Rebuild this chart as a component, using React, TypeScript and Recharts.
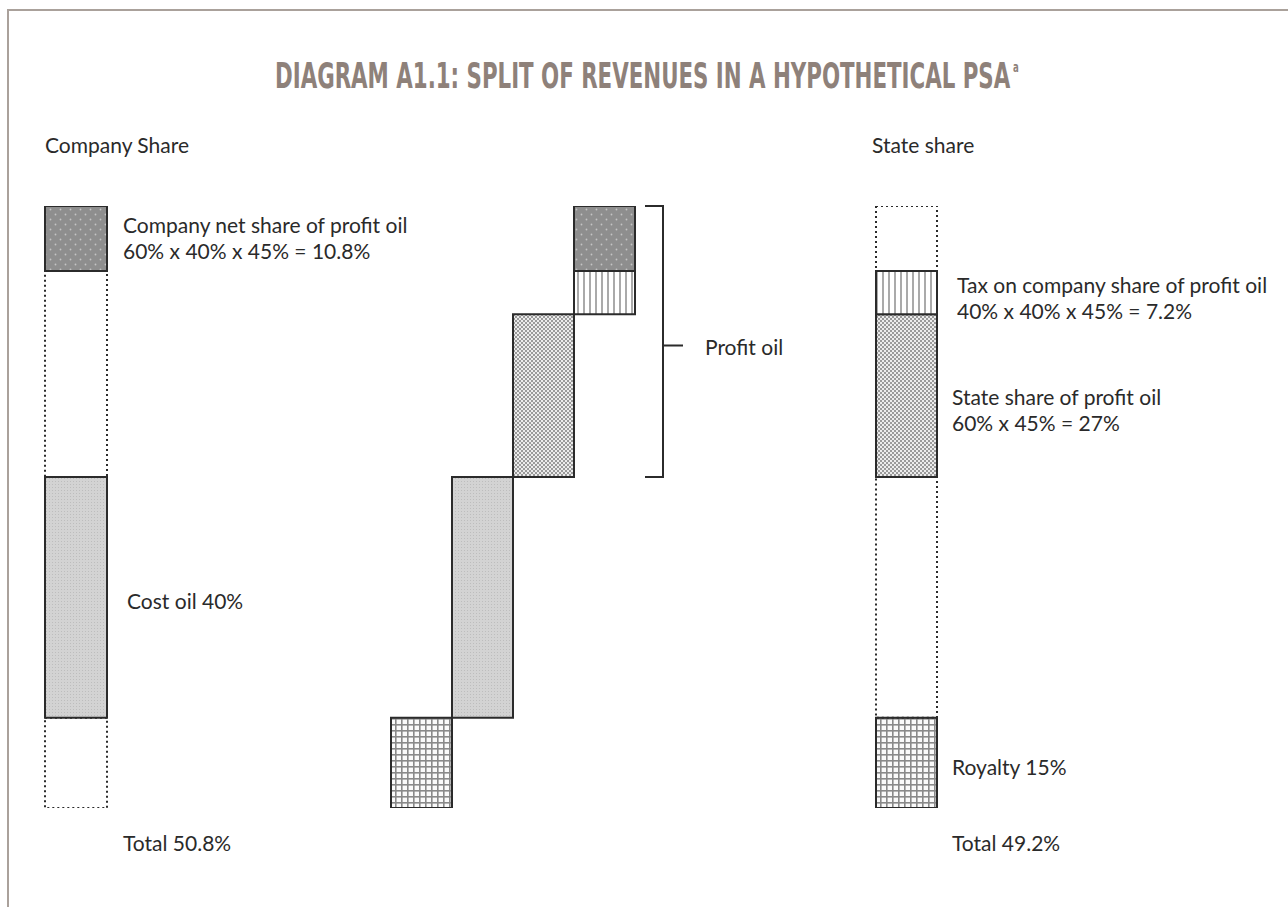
import React, { useLayoutEffect, useRef, useState } from 'react';
import { BarChart, Bar, XAxis, YAxis } from 'recharts';

// Split of revenues (% of total), from the bottom of the waterfall upwards
const segmentKeys = ['royalty', 'cost', 'stateProfit', 'tax', 'net'];
const segmentValues = [15, 40, 27, 7.2, 10.8];
const waterfallCategories = ['Royalty', 'Cost oil', 'State profit oil', 'Profit split'];
const totalLabels = ['Total 50.8%', 'Total 49.2%'];

const [royalty, costOil, stateProfit, taxOnCompany, companyNet] = segmentValues;

// Waterfall rows: an invisible base plus the visible piece(s)
const waterfallData = waterfallCategories.map((name, i) => {
  const row: any = { name, base: segmentValues.slice(0, i).reduce((s, v) => s + v, 0) };
  if (i < 3) row[segmentKeys[i]] = segmentValues[i];
  else {
    row.tax = taxOnCompany;
    row.net = companyNet;
  }
  return row;
});

const companyData = [
  { name: 'Company', gapLow: royalty, cost: costOil, gapHigh: stateProfit + taxOnCompany, net: companyNet },
];
const stateData = [
  { name: 'State', royalty, gapLow: costOil, stateProfit, tax: taxOnCompany, gapHigh: companyNet },
];

const fills: Record<string, string> = {
  royalty: 'url(#pRoyalty)',
  cost: 'url(#pCost)',
  stateProfit: 'url(#pState)',
  tax: 'url(#pTax)',
  net: 'url(#pNet)',
};

const INK = '#2b2b2b';
const TITLE_COLOR = '#8e817a';
const PLOT_TOP = 206;
const PLOT_H = 602;
const M = { top: 4, right: 2, bottom: 4, left: 2 };
const yPx = (v: number) => PLOT_TOP + PLOT_H - (v / 100) * PLOT_H;

const labelFont = 'Lato, "Open Sans", sans-serif';

const solidBar = (key: string) => (
  <Bar key={key} dataKey={key} stackId="s" fill={fills[key]} stroke={INK} strokeWidth={2} isAnimationActive={false} />
);
const dottedBar = (key: string) => (
  <Bar key={key} dataKey={key} stackId="s" fill="none" stroke={INK} strokeWidth={2} strokeDasharray="2 3" isAnimationActive={false} />
);

const Axes = () => (
  <>
    <XAxis dataKey="name" hide />
    <YAxis hide type="number" domain={[0, 100]} allowDataOverflow />
  </>
);

const Label = ({ x, y, lines, size = 21 }: { x: number; y: number; lines: string[]; size?: number }) => (
  <div
    style={{
      position: 'absolute',
      left: x,
      top: y - 13,
      fontFamily: labelFont,
      fontSize: size,
      lineHeight: '26px',
      color: '#2a2a2a',
      whiteSpace: 'nowrap',
    }}
  >
    {lines.map((l) => (
      <div key={l}>{l}</div>
    ))}
  </div>
);

// condensed title squeezed to the reference width
const Title = () => {
  const ref = useRef<HTMLSpanElement>(null);
  const [scale, setScale] = useState(0.7);
  useLayoutEffect(() => {
    if (ref.current) setScale(744 / ref.current.offsetWidth);
  }, []);
  return (
    <div style={{ position: 'absolute', left: 275, top: 47, height: 40, whiteSpace: 'nowrap' }}>
      <span
        ref={ref}
        style={{
          display: 'inline-block',
          transform: `scaleX(${scale})`,
          transformOrigin: 'left top',
          fontFamily: '"DejaVu Sans Condensed", "DejaVu Sans", sans-serif',
          fontStretch: 'condensed',
          fontWeight: 700,
          fontSize: 35,
          lineHeight: '40px',
          color: TITLE_COLOR,
        }}
      >
        DIAGRAM A1.1: SPLIT OF REVENUES IN A HYPOTHETICAL PSA
        <sup style={{ fontSize: 14, marginLeft: 4, verticalAlign: 16 }}>a</sup>
      </span>
    </div>
  );
};

export default function App() {
  const bracketTop = yPx(royalty + costOil + stateProfit + taxOnCompany + companyNet);
  const bracketBottom = yPx(royalty + costOil);
  const bracketMid = (bracketTop + bracketBottom) / 2 + 4;

  return (
    <div style={{ position: 'absolute', left: 0, top: 0, width: 1288, height: 907, background: '#fff', overflow: 'hidden' }}>
      {/* frame */}
      <div
        style={{
          position: 'absolute',
          left: 7,
          top: 9,
          width: 1300,
          height: 920,
          borderTop: '2px solid #aaa19b',
          borderLeft: '2px solid #aaa19b',
        }}
      />

      {/* fill patterns shared by all charts */}
      <svg width={0} height={0} style={{ position: 'absolute' }}>
        <defs>
          <pattern id="pNet" width={10} height={10} patternUnits="userSpaceOnUse">
            <rect width={10} height={10} fill="#8e8e8e" />
            <circle cx={2.5} cy={2.5} r={0.9} fill="#c4c4c4" />
            <circle cx={7.5} cy={7.5} r={0.9} fill="#c4c4c4" />
          </pattern>
          <pattern id="pTax" width={6} height={6} patternUnits="userSpaceOnUse">
            <rect width={6} height={6} fill="#fff" />
            <rect x={2.5} width={1} height={6} fill="#555" />
          </pattern>
          <pattern id="pState" width={4} height={4} patternUnits="userSpaceOnUse">
            <rect width={4} height={4} fill="#ececec" />
            <rect width={2} height={2} fill="#9a9a9a" />
            <rect x={2} y={2} width={2} height={2} fill="#9a9a9a" />
          </pattern>
          <pattern id="pCost" width={3} height={3} patternUnits="userSpaceOnUse">
            <rect width={3} height={3} fill="#d3d3d3" />
            <rect width={1} height={1} fill="#bdbdbd" />
          </pattern>
          <pattern id="pRoyalty" width={6} height={6} patternUnits="userSpaceOnUse">
            <rect width={6} height={6} fill="#fafafa" />
            <rect width={6} height={1.6} fill="#8a8a8a" />
            <rect width={1.6} height={6} fill="#8a8a8a" />
          </pattern>
        </defs>
      </svg>

      <Title />

      <Label x={45} y={145} lines={['Company Share']} />
      <Label x={872} y={145} lines={['State share']} />

      {/* company share column */}
      <div style={{ position: 'absolute', left: 45 - M.left, top: PLOT_TOP - M.top }}>
        <BarChart width={62 + M.left + M.right} height={PLOT_H + M.top + M.bottom} data={companyData} margin={M} barCategoryGap={0}>
          {Axes()}
          {dottedBar('gapLow')}
          {solidBar('cost')}
          {dottedBar('gapHigh')}
          {solidBar('net')}
        </BarChart>
      </div>

      {/* waterfall */}
      <div style={{ position: 'absolute', left: 391 - M.left, top: PLOT_TOP - M.top }}>
        <BarChart width={244 + M.left + M.right} height={PLOT_H + M.top + M.bottom} data={waterfallData} margin={M} barCategoryGap={0}>
          {Axes()}
          <Bar dataKey="base" stackId="s" fill="none" stroke="none" isAnimationActive={false} />
          {segmentKeys.map((k) => solidBar(k))}
        </BarChart>
      </div>

      {/* state share column */}
      <div style={{ position: 'absolute', left: 876 - M.left, top: PLOT_TOP - M.top }}>
        <BarChart width={61 + M.left + M.right} height={PLOT_H + M.top + M.bottom} data={stateData} margin={M} barCategoryGap={0}>
          {Axes()}
          {solidBar('royalty')}
          {dottedBar('gapLow')}
          {solidBar('stateProfit')}
          {solidBar('tax')}
          {dottedBar('gapHigh')}
        </BarChart>
      </div>

      {/* profit oil bracket */}
      <svg width={1288} height={907} style={{ position: 'absolute', left: 0, top: 0, pointerEvents: 'none' }}>
        <path
          d={`M645 ${bracketTop} H663 V${bracketBottom} H645 M663 ${bracketMid} H683`}
          fill="none"
          stroke={INK}
          strokeWidth={2}
        />
      </svg>

      <Label x={123} y={225} lines={['Company net share of profit oil', '60% x 40% x 45% = 10.8%']} />
      <Label x={705} y={347} lines={['Profit oil']} />
      <Label x={957} y={285} lines={['Tax on company share of profit oil', '40% x 40% x 45% = 7.2%']} />
      <Label x={952} y={397} lines={['State share of profit oil', '60% x 45% = 27%']} />
      <Label x={127} y={601} lines={['Cost oil 40%']} />
      <Label x={952} y={767} lines={['Royalty 15%']} />
      <Label x={123} y={843} lines={[totalLabels[0]]} />
      <Label x={952} y={843} lines={[totalLabels[1]]} />
    </div>
  );
}
